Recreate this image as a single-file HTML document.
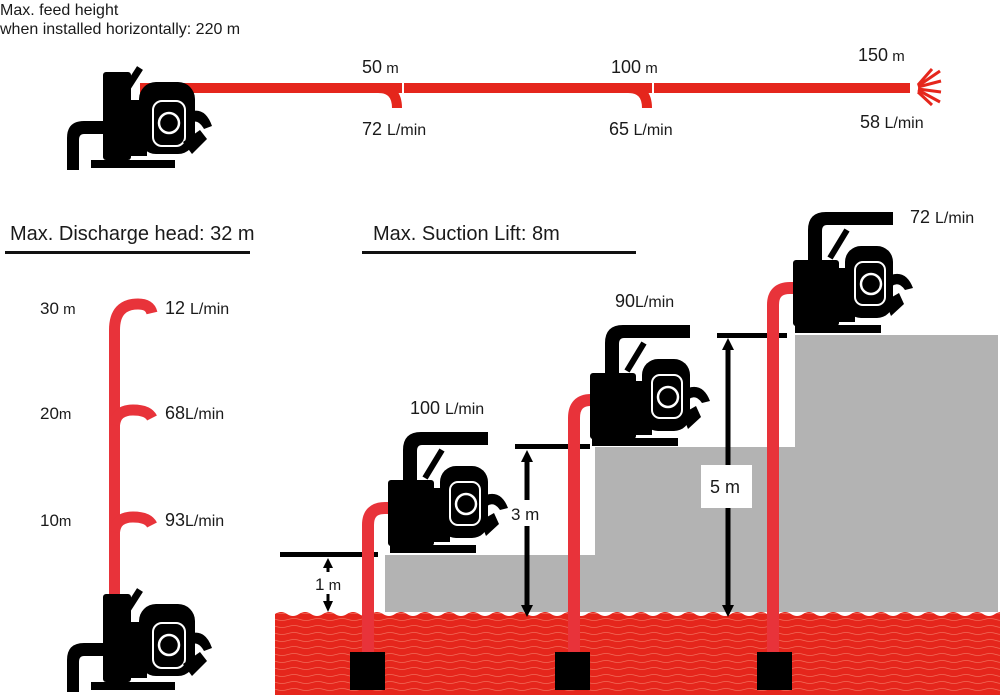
<!DOCTYPE html>
<html><head><meta charset="utf-8"><style>
html,body{margin:0;padding:0;background:#fff;}
svg{display:block;font-family:"Liberation Sans",sans-serif;}
text{fill:#1a1a1a;}
</style></head><body>
<svg width="1000" height="695" viewBox="0 0 1000 695" xmlns="http://www.w3.org/2000/svg">
<defs>
<pattern id="wv" x="0" y="0" width="24" height="7" patternUnits="userSpaceOnUse">
<rect width="24" height="7" fill="#e5261c"/>
<path d="M0,3.5 Q6,1.5 12,3.5 T24,3.5" stroke="#f26a58" stroke-width="0.8" fill="none"/>
</pattern>
<g id="pa">
<path d="M2,102 V70 Q2,53 19,53 H42 V66 H19 Q14,66 14,72 V102 Z" fill="#000"/>
<line x1="75" y1="0" x2="57" y2="28" stroke="#000" stroke-width="7"/>
<rect x="38" y="4" width="28" height="88" rx="3" fill="#000"/>
<rect x="60" y="32" width="22" height="56" fill="#000"/>
<rect x="74" y="14" width="56" height="72" rx="17" fill="#000"/>
<rect x="88" y="33" width="32" height="45" rx="9" fill="none" stroke="#fff" stroke-width="2"/>
<circle cx="104" cy="55" r="10" fill="#000" stroke="#fff" stroke-width="2.5"/>
<path d="M124,44 Q140,38 147,58 L139,61 Q133,50 125,55 Z" fill="#000"/>
<path d="M118,74 L135,62 L142,71 L127,86 Z" fill="#000"/>
<rect x="26" y="92" width="84" height="8" fill="#000"/>
</g>
<g id="pb">
<path d="M33,97 V30 Q33,12 51,12 H118 V25 H52 Q47,25 47,31 V97 Z" fill="#000"/>
<line x1="72" y1="30" x2="55" y2="58" stroke="#000" stroke-width="6"/>
<rect x="18" y="60" width="46" height="66" rx="3" fill="#000"/>
<rect x="58" y="68" width="22" height="54" fill="#000"/>
<rect x="70" y="46" width="48" height="72" rx="16" fill="#000"/>
<rect x="80" y="62" width="30" height="43" rx="8" fill="none" stroke="#fff" stroke-width="2"/>
<circle cx="96" cy="84" r="10" fill="#000" stroke="#fff" stroke-width="2.5"/>
<path d="M116,75 Q131,70 138,88 L130,90 Q124,81 117,86 Z" fill="#000"/>
<path d="M110,101 L124,93 L129,104 L116,116 Z" fill="#000"/>
<rect x="20" y="125" width="86" height="8" fill="#000"/>
</g>
</defs>

<text x="0" y="15" font-size="16">Max. feed height</text>
<text x="0" y="34" font-size="16">when installed horizontally: 220 m</text>

<g stroke="#e5261c" stroke-width="10" fill="none">
<line x1="140" y1="88" x2="910" y2="88"/>
<path d="M378,88 Q397,88 397,108"/>
<path d="M628,88 Q647,88 647,108"/>
</g>
<g stroke="#fff" stroke-width="2"><line x1="403" y1="82" x2="403" y2="95"/><line x1="653" y1="82" x2="653" y2="95"/></g>
<g stroke="#e5261c" stroke-width="3"><line x1="918" y1="86" x2="940" y2="71"/><line x1="918" y1="87" x2="941" y2="81"/><line x1="918" y1="89" x2="941" y2="92"/><line x1="918" y1="90" x2="940" y2="102"/><line x1="918" y1="85" x2="932" y2="69"/><line x1="918" y1="92" x2="932" y2="105"/></g>
<use href="#pa" x="65" y="68"/>
<text x="362" y="73" font-size="18">50<tspan font-size="15"> m</tspan></text>
<text x="362" y="135" font-size="18">72 <tspan font-size="16">L/min</tspan></text>
<text x="611" y="73" font-size="18">100<tspan font-size="15"> m</tspan></text>
<text x="609" y="135" font-size="18">65<tspan font-size="16"> L/min</tspan></text>
<text x="858" y="61" font-size="18">150<tspan font-size="15"> m</tspan></text>
<text x="860" y="128" font-size="18">58<tspan font-size="16"> L/min</tspan></text>

<text x="10" y="240" font-size="20">Max. Discharge head: 32 m</text>
<rect x="5" y="251" width="245" height="3" fill="#111"/>
<text x="373" y="240" font-size="20">Max. Suction Lift: 8m</text>
<rect x="362" y="251" width="274" height="3" fill="#111"/>

<g stroke="#e8333a" stroke-width="11" fill="none">
<path d="M114.5,600 V330 Q114.5,304 138,304 Q150,304 152,313"/>
<path d="M114.5,425 Q116,410 133,410 Q148,410 152,418"/>
<path d="M114.5,532 Q116,517 133,517 Q148,517 152,525"/>
</g>
<use href="#pa" x="65" y="590"/>
<text x="40" y="314" font-size="17">30<tspan font-size="15"> m</tspan></text>
<text x="165" y="314" font-size="18">12 <tspan font-size="16">L/min</tspan></text>
<text x="40" y="419" font-size="17">20<tspan font-size="15">m</tspan></text>
<text x="165" y="419" font-size="18">68<tspan font-size="16">L/min</tspan></text>
<text x="40" y="526" font-size="17">10<tspan font-size="15">m</tspan></text>
<text x="165" y="526" font-size="18">93<tspan font-size="16">L/min</tspan></text>

<path d="M385,612 V555 H595 V447 H795 V335 H998 V612 Z" fill="#b3b3b3"/>
<path d="M275,614 Q281,610 287,614 T299,614 T311,614 T323,614 T335,614 T347,614 T359,614 T371,614 T383,614 T395,614 T407,614 T419,614 T431,614 T443,614 T455,614 T467,614 T479,614 T491,614 T503,614 T515,614 T527,614 T539,614 T551,614 T563,614 T575,614 T587,614 T599,614 T611,614 T623,614 T635,614 T647,614 T659,614 T671,614 T683,614 T695,614 T707,614 T719,614 T731,614 T743,614 T755,614 T767,614 T779,614 T791,614 T803,614 T815,614 T827,614 T839,614 T851,614 T863,614 T875,614 T887,614 T899,614 T911,614 T923,614 T935,614 T947,614 T959,614 T971,614 T983,614 T995,614 T1007,614 V695 H275 Z" fill="url(#wv)"/>

<rect x="280" y="552" width="98" height="5" fill="#000"/>
<line x1="328" y1="566" x2="328" y2="603" stroke="#000" stroke-width="3"/>
<path d="M323,568 L328,558 L333,568 Z M323,601 L328,612 L333,601 Z" fill="#000"/>
<rect x="314" y="572" width="30" height="22" fill="#fff"/>
<text x="315" y="590" font-size="17">1<tspan font-size="15"> m</tspan></text>

<rect x="515" y="444" width="75" height="5" fill="#000"/>
<line x1="527" y1="458" x2="527" y2="612" stroke="#000" stroke-width="5"/>
<path d="M521,462 L527,450 L533,462 Z M521,605 L527,617 L533,605 Z" fill="#000"/>
<rect x="510" y="500" width="36" height="26" fill="#fff"/>
<text x="511" y="520" font-size="17">3 m</text>

<rect x="717" y="333" width="70" height="5" fill="#000"/>
<line x1="728" y1="348" x2="728" y2="612" stroke="#000" stroke-width="5"/>
<path d="M722,350 L728,338 L734,350 Z M722,605 L728,617 L734,605 Z" fill="#000"/>
<rect x="701" y="465" width="51" height="43" fill="#fff"/>
<text x="710" y="493" font-size="18">5 m</text>

<g stroke="#e8333a" stroke-width="12" fill="none">
<path d="M368,660 V525 Q368,508 385,508 H395"/>
<path d="M574,660 V418 Q574,400 591,400 H600"/>
<path d="M773,660 V305 Q773,288 790,288 H800"/>
</g>
<rect x="350" y="652" width="35" height="38" fill="#000"/>
<rect x="555" y="652" width="35" height="38" fill="#000"/>
<rect x="757" y="652" width="35" height="38" fill="#000"/>

<use href="#pb" x="370" y="420"/>
<use href="#pb" x="572" y="313"/>
<use href="#pb" x="775" y="200"/>

<text x="410" y="414" font-size="18">100 <tspan font-size="16">L/min</tspan></text>
<text x="615" y="307" font-size="18">90<tspan font-size="16">L/min</tspan></text>
<text x="910" y="223" font-size="18">72 <tspan font-size="16">L/min</tspan></text>
</svg>
</body></html>
